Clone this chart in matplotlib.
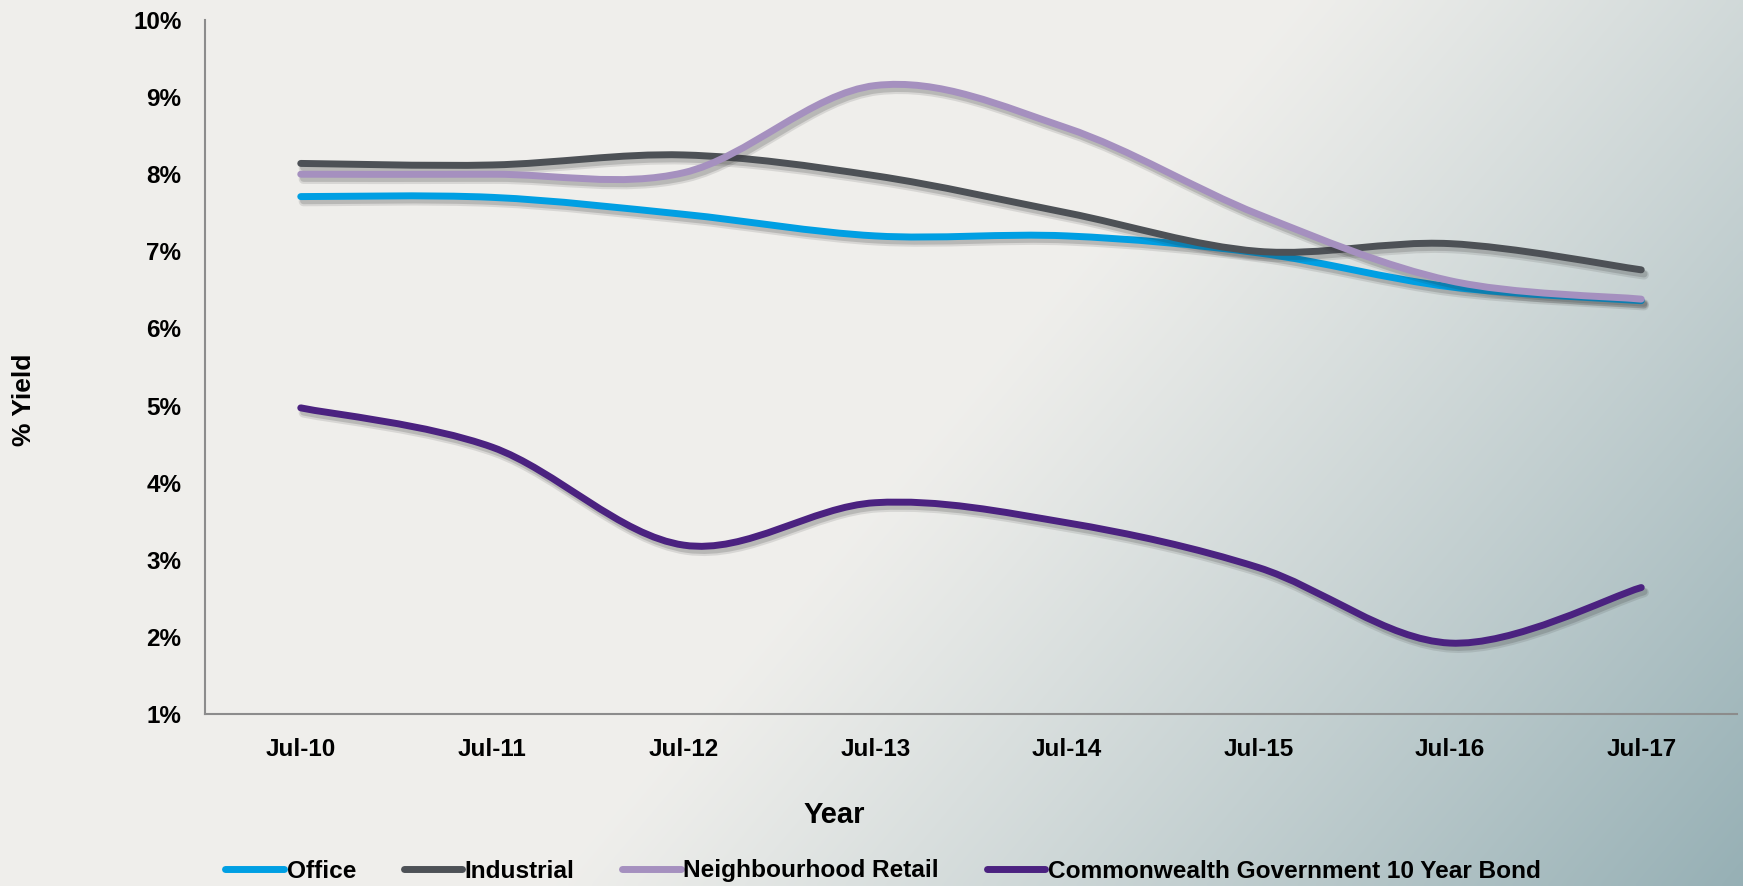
import numpy as np
import matplotlib
matplotlib.use("Agg")
import matplotlib.pyplot as plt
from matplotlib.path import Path
from matplotlib.patches import PathPatch
from matplotlib.lines import Line2D
import matplotlib.patheffects as pe

plt.rcParams['font.family'] = ['Liberation Sans', 'DejaVu Sans']
plt.rcParams['font.weight'] = 'bold'

# ---- data -------------------------------------------------------------
years = ["Jul-10", "Jul-11", "Jul-12", "Jul-13", "Jul-14", "Jul-15", "Jul-16", "Jul-17"]
office = [7.71, 7.70, 7.48, 7.20, 7.20, 6.98, 6.54, 6.36]
industrial = [8.14, 8.12, 8.25, 7.98, 7.50, 7.00, 7.10, 6.76]
retail = [8.00, 8.00, 8.02, 9.15, 8.60, 7.48, 6.62, 6.38]
bond = [4.97, 4.46, 3.19, 3.74, 3.48, 2.90, 1.92, 2.64]

series_names = ["Office", "Industrial", "Neighbourhood Retail",
                "Commonwealth Government 10 Year Bond"]
series_values = [office, industrial, retail, bond]
series_colors = ["#009fe3", "#4d5156", "#a590bf", "#4b2280"]
yticks = [1, 2, 3, 4, 5, 6, 7, 8, 9, 10]
ytick_labels = [f"{v}%" for v in yticks]

# ---- figure and background -------------------------------------------
W, H, DPI = 1743, 886, 100
fig = plt.figure(figsize=(W / DPI, H / DPI), dpi=DPI)

bg = fig.add_axes([0, 0, 1, 1], zorder=-10)
bg.set_axis_off()
gx, gy = np.meshgrid(np.linspace(0, 1, 400), np.linspace(0, 1, 200))
t = np.clip(1.45 * gx + 0.62 * gy - 1.07, 0, 1)
t = t ** 1.1
light = np.array([0.940, 0.937, 0.925])
dark = np.array([0.590, 0.690, 0.710])
img = light[None, None, :] * (1 - t[..., None]) + dark[None, None, :] * t[..., None]
bg.imshow(img, aspect="auto", extent=[0, 1, 1, 0], interpolation="bilinear")
bg.set_xlim(0, 1)
bg.set_ylim(1, 0)

ax = fig.add_axes([205 / W, 1 - 714 / H, (1737 - 205) / W, (714 - 20) / H])
ax.patch.set_alpha(0)


def smooth_path(xs, ys):
    """Bezier curve through the points, in the style of a smoothed line chart."""
    pts = np.column_stack([xs, ys]).astype(float)
    n = len(pts)
    verts = [pts[0]]
    codes = [Path.MOVETO]
    for i in range(n - 1):
        p0 = pts[i - 1] if i > 0 else pts[i]
        p1 = pts[i]
        p2 = pts[i + 1]
        p3 = pts[i + 2] if i + 2 < n else pts[i + 1]
        c1 = p1 + (p2 - p0) / 6.0
        c2 = p2 - (p3 - p1) / 6.0
        verts += [c1, c2, p2]
        codes += [Path.CURVE4] * 3
    return Path(verts, codes)


x = np.arange(len(years))
shadow = [pe.SimpleLineShadow(offset=(2, -3.5), shadow_color="#303030", alpha=0.12,
                              linewidth=7),
          pe.SimpleLineShadow(offset=(2, -3), shadow_color="#303030", alpha=0.18),
          pe.Normal()]
for vals, col in zip(series_values, series_colors):
    patch = PathPatch(smooth_path(x, vals), facecolor="none", edgecolor=col,
                      lw=5, capstyle="round", joinstyle="round", zorder=3)
    patch.set_path_effects(shadow)
    ax.add_patch(patch)

ax.set_xlim(-0.5, len(years) - 0.5)
ax.set_ylim(1, 10)
ax.set_xticks(x)
ax.set_xticklabels(years)
ax.set_yticks(yticks)
ax.set_yticklabels(ytick_labels)
ax.tick_params(axis="both", length=0, labelsize=17.5)
ax.tick_params(axis="y", pad=17)
ax.tick_params(axis="x", pad=17)
for lab in ax.get_xticklabels() + ax.get_yticklabels():
    lab.set_fontweight("bold")
for s in ["top", "right"]:
    ax.spines[s].set_visible(False)
for s in ["left", "bottom"]:
    ax.spines[s].set_color("#8c8c8c")
    ax.spines[s].set_linewidth(1.5)

fig.text(24 / W, 1 - 400 / H, "% Yield", rotation=90, ha="center", va="center",
         fontsize=19, fontweight="bold")
fig.text(834 / W, 1 - 815 / H, "Year", ha="center", va="center",
         fontsize=21, fontweight="bold")

handles = [Line2D([], [], color=c, lw=5, solid_capstyle="round") for c in series_colors]
fig.legend(handles, series_names, loc="center", bbox_to_anchor=(883 / W, 1 - 871 / H),
           ncol=4, frameon=False, handlelength=2.4, handletextpad=0.1,
           columnspacing=1.95, prop={"weight": "bold", "size": 17.6})

fig.savefig("out.png", dpi=DPI)
